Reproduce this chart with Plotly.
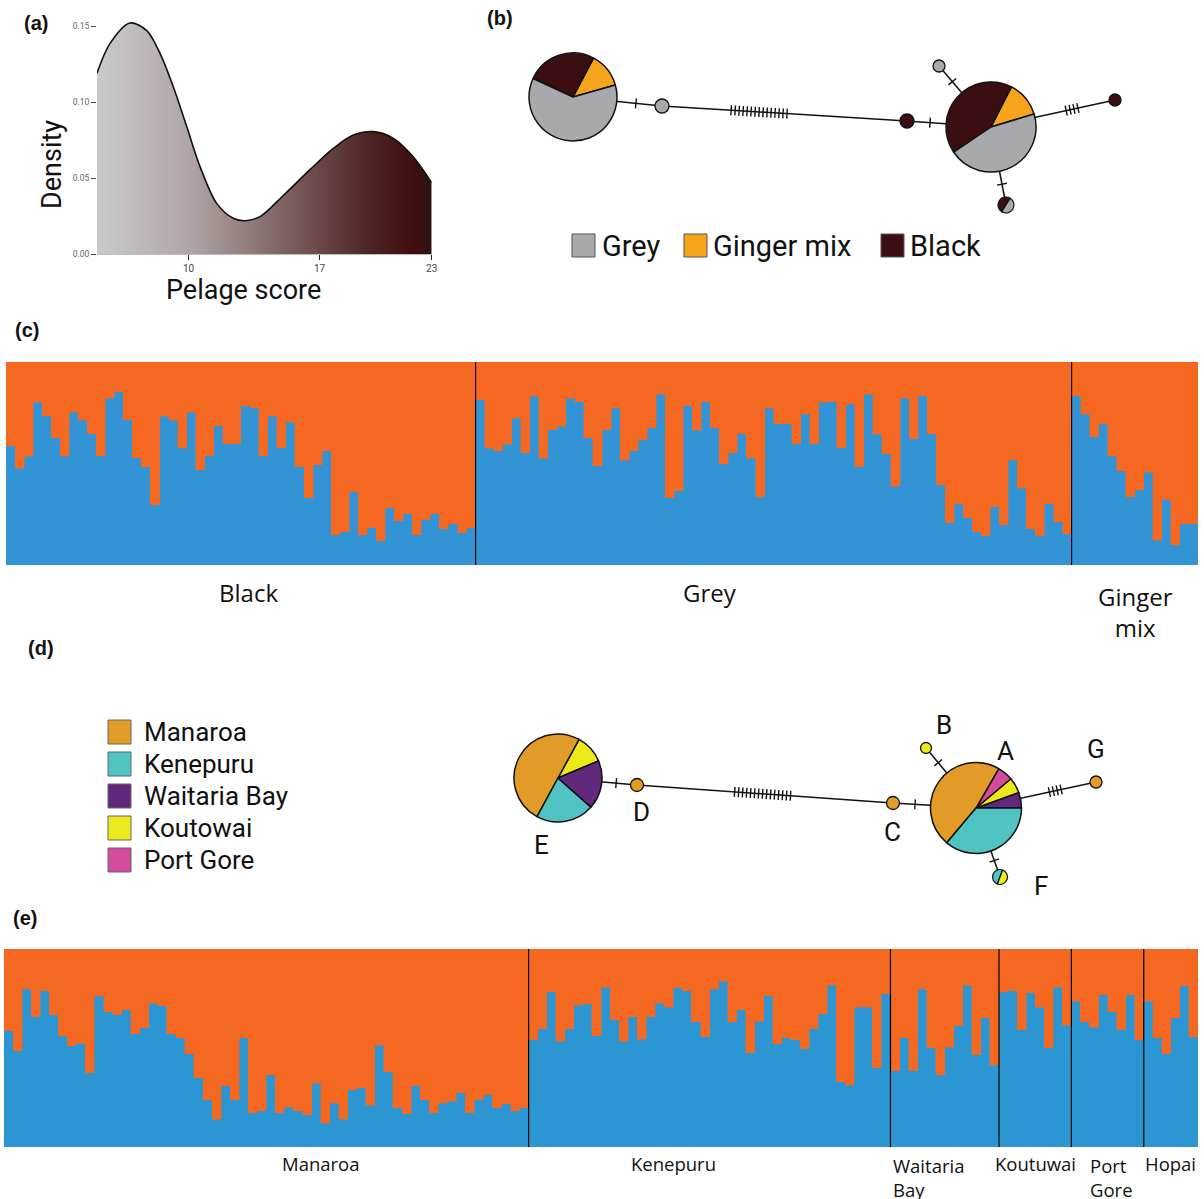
import math
import plotly.graph_objects as go

W, H = 1204, 1199

# ======================= DATA =======================
# (a) density of pelage score
pelage_score = [5.1, 5.8, 6.86, 7.76, 8.47, 9.18, 9.9, 10.61, 11.5, 12.39, 13.01,
                13.82, 15.06, 16.49, 17.74, 18.81, 19.88, 20.95, 22.01, 23.0]
pelage_density = [0.119, 0.1386, 0.152, 0.147, 0.132, 0.110, 0.0838, 0.0575, 0.0333,
                  0.0235, 0.0219, 0.0246, 0.0385, 0.0555, 0.0695, 0.0783, 0.0805,
                  0.0761, 0.064, 0.0469]
pelage_ticks = [10, 17, 23]
density_ticks = [0.00, 0.05, 0.10, 0.15]

# (b) haplotype network by pelage class
pelage_classes = ["Grey", "Ginger mix", "Black"]
hapb_counts = {
    "L": [19, 4, 8],     # Grey, Ginger mix, Black
    "R": [14, 4, 13],
    "mix": [1, 0, 1],
    "g1": [1, 0, 0],
    "d1": [0, 0, 1],
    "g2": [1, 0, 0],
    "d2": [0, 0, 1],
}
hapb_edges = [("L", "g1", 1), ("g1", "d1", 15), ("d1", "R", 1),
              ("R", "g2", 1), ("R", "d2", 4), ("R", "mix", 1)]

# (c) STRUCTURE by pelage class (cluster-1 proportion)
struct_c_groups = ["Black", "Grey", "Ginger mix"]
q_black = [0.587, 0.477, 0.535, 0.801, 0.735, 0.627, 0.535, 0.752, 0.712, 0.646,
           0.538, 0.821, 0.854, 0.715, 0.528, 0.485, 0.298, 0.732, 0.712, 0.574,
           0.752, 0.469, 0.538, 0.686, 0.597, 0.597, 0.785, 0.775, 0.538, 0.732,
           0.577, 0.702, 0.485, 0.331, 0.495, 0.564, 0.150, 0.163, 0.360, 0.150,
           0.183, 0.120, 0.281, 0.219, 0.252, 0.150, 0.222, 0.252, 0.179, 0.202,
           0.160, 0.183]
q_grey = [0.814, 0.574, 0.564, 0.594, 0.722, 0.554, 0.831, 0.525, 0.666, 0.683,
          0.821, 0.804, 0.627, 0.488, 0.666, 0.771, 0.515, 0.564, 0.617, 0.676,
          0.840, 0.331, 0.367, 0.785, 0.663, 0.804, 0.676, 0.498, 0.554, 0.646,
          0.525, 0.337, 0.771, 0.696, 0.696, 0.597, 0.745, 0.597, 0.801, 0.804,
          0.577, 0.791, 0.485, 0.840, 0.643, 0.548, 0.387, 0.821, 0.623, 0.834,
          0.646, 0.396, 0.209, 0.301, 0.232, 0.163, 0.143, 0.288, 0.199, 0.518,
          0.377, 0.179, 0.143, 0.301, 0.212, 0.153]
q_ginger = [0.834, 0.742, 0.633, 0.696, 0.535, 0.465, 0.337, 0.370, 0.456, 0.123,
            0.321, 0.100, 0.202, 0.202]

# (d) haplotype network by location
locations = ["Manaroa", "Kenepuru", "Waitaria Bay", "Koutowai", "Port Gore"]
hapd_counts = {   # Manaroa, Kenepuru, Waitaria Bay, Koutowai, Port Gore
    "E": [14, 6, 5, 3, 0],
    "A": [17, 13, 2, 2, 2],
    "D": [1, 0, 0, 0, 0],
    "C": [1, 0, 0, 0, 0],
    "B": [0, 0, 0, 1, 0],
    "G": [1, 0, 0, 0, 0],
    "F": [0, 1, 0, 1, 0],
}
hapd_edges = [("E", "D", 1), ("D", "C", 15), ("C", "A", 1),
              ("A", "B", 1), ("A", "G", 4), ("A", "F", 1)]

# (e) STRUCTURE by location
struct_e_groups = ["Manaroa", "Kenepuru", "Waitaria Bay", "Koutuwai", "Port Gore", "Hopai"]
q_manaroa = [0.586, 0.485, 0.798, 0.657, 0.788, 0.667, 0.562, 0.512, 0.525, 0.374,
             0.764, 0.684, 0.667, 0.694, 0.572, 0.603, 0.727, 0.714, 0.572, 0.552,
             0.471, 0.350, 0.239, 0.141, 0.310, 0.239, 0.552, 0.172, 0.182, 0.364,
             0.172, 0.202, 0.182, 0.162, 0.323, 0.121, 0.222, 0.141, 0.290, 0.300,
             0.212, 0.515, 0.380, 0.199, 0.168, 0.310, 0.239, 0.172, 0.222, 0.232,
             0.273, 0.172, 0.239, 0.263, 0.199, 0.219, 0.182, 0.199]
q_kenepuru = [0.542, 0.596, 0.785, 0.535, 0.596, 0.717, 0.724, 0.562, 0.808, 0.643,
              0.535, 0.657, 0.545, 0.657, 0.727, 0.707, 0.805, 0.788, 0.633, 0.556,
              0.798, 0.838, 0.633, 0.694, 0.475, 0.636, 0.764, 0.522, 0.552, 0.542,
              0.495, 0.596, 0.673, 0.818, 0.330, 0.313, 0.707, 0.707, 0.401, 0.774]
q_waitaria = [0.384, 0.552, 0.384, 0.798, 0.502, 0.364, 0.505, 0.613, 0.818, 0.465,
              0.653, 0.414]
q_koutuwai = [0.785, 0.788, 0.593, 0.778, 0.707, 0.502, 0.808, 0.616]
q_portgore = [0.737, 0.633, 0.606, 0.768, 0.684, 0.593, 0.768, 0.542]
q_hopai = [0.737, 0.552, 0.471, 0.653, 0.815, 0.556]

# ======================= STYLE / LAYOUT =======================
pelage_colors = ["#A7A9AC", "#F7A41D", "#3B0F12"]
loc_colors = ["#E39B27", "#50C3C3", "#61287B", "#EBE91B", "#D44A9C"]
BLUE_C, BLUE_E, ORANGE = "#3294D4", "#2C96D2", "#F46822"
NARROW = "Roboto, Open Sans, sans-serif"
SANS = "Open Sans, sans-serif"
BOLD = "Liberation Sans, Arial, sans-serif"

# node positions (px), radii, slice order and start angle (math degrees, ccw)
nodes_b = {
    "L": dict(x=573, y=97, r=44, order=[1, 2, 0], start=15.8),
    "R": dict(x=991, y=127, r=45, order=[1, 2, 0], start=16.7),
    "mix": dict(x=1006, y=205, r=8, order=[2, 0], start=58),
    "g1": dict(x=662, y=106, r=7),
    "d1": dict(x=907, y=121, r=7),
    "g2": dict(x=939, y=66, r=6),
    "d2": dict(x=1115, y=100, r=6),
}
hatch_pos_b = {("g1", "d1"): 0.39}
nodes_d = {
    "E": dict(x=558, y=778, r=44, order=[3, 0, 1, 2], start=22.9, lab=(541, 845)),
    "A": dict(x=976, y=808, r=45.5, order=[2, 3, 4, 0, 1], start=0, lab=(1005, 751)),
    "F": dict(x=1000, y=877, r=7.5, order=[1, 3], start=70, lab=(1041, 886)),
    "D": dict(x=637, y=785, r=6.5, lab=(641, 812)),
    "C": dict(x=893, y=803, r=6.5, lab=(892, 832)),
    "B": dict(x=926, y=748, r=5.5, lab=(944, 725)),
    "G": dict(x=1096, y=782, r=6, lab=(1096, 749)),
}
hatch_pos_d = {("D", "C"): 0.49}

fig = go.Figure()

def px(x):
    return x / W

def py(y):
    return 1 - y / H

# ---------- (a) density ----------
fig.add_trace(go.Scatter(
    x=pelage_score, y=pelage_density, mode="lines",
    line=dict(shape="spline", color="#111111", width=1.6, smoothing=0.9),
    fill="tozeroy",
    fillgradient=dict(type="horizontal", colorscale=[
        [0.0, "#CACACA"], [0.27, "#B1A6A6"], [0.44, "#948080"], [0.665, "#6C4747"],
        [0.82, "#4D2323"], [0.944, "#420E0E"], [1.0, "#2A1414"]]),
    hoverinfo="skip", showlegend=False, xaxis="x", yaxis="y"))

# ---------- (c) & (e) structure bars ----------
def add_struct(groups, axis_x, axis_y, blue):
    vals = [v for g in groups for v in g]
    idx = list(range(len(vals)))
    fig.add_trace(go.Bar(x=idx, y=vals, marker=dict(color=blue, line=dict(width=0.4, color=blue)),
                         xaxis=axis_x, yaxis=axis_y, showlegend=False, hoverinfo="skip"))
    fig.add_trace(go.Bar(x=idx, y=[1 - v for v in vals],
                         marker=dict(color=ORANGE, line=dict(width=0.4, color=ORANGE)),
                         xaxis=axis_x, yaxis=axis_y, showlegend=False, hoverinfo="skip"))
    n = 0
    for g in groups[:-1]:
        n += len(g)
        fig.add_shape(type="line", xref=axis_x, yref=axis_y + " domain", x0=n - 0.5, x1=n - 0.5,
                      y0=0, y1=1, line=dict(color="black", width=1.2), layer="above")
    return len(vals)

nc = add_struct([q_black, q_grey, q_ginger], "x2", "y2", BLUE_C)
ne = add_struct([q_manaroa, q_kenepuru, q_waitaria, q_koutuwai, q_portgore, q_hopai], "x3", "y3", BLUE_E)

# ---------- networks ----------
def add_network(nodes, edges, counts, colors, hatch_pos):
    lx, ly, hx, hy = [], [], [], []
    for a, b, nmut in edges:
        A, B = nodes[a], nodes[b]
        lx += [A["x"], B["x"], None]
        ly += [A["y"], B["y"], None]
        dx, dy = B["x"] - A["x"], B["y"] - A["y"]
        L = math.hypot(dx, dy)
        ux, uy = dx / L, dy / L
        s0, s1 = A["r"], L - B["r"]
        t = hatch_pos.get((a, b), 0.5)
        c = s0 + (s1 - s0) * t
        sp = 4.0
        for k in range(nmut):
            s = c + (k - (nmut - 1) / 2) * sp
            cx, cy = A["x"] + ux * s, A["y"] + uy * s
            hx += [cx - uy * 5, cx + uy * 5, None]
            hy += [cy + ux * 5, cy - ux * 5, None]
    fig.add_trace(go.Scatter(x=lx, y=ly, mode="lines", line=dict(color="#111", width=1.5),
                             xaxis="x4", yaxis="y4", hoverinfo="skip", showlegend=False))
    fig.add_trace(go.Scatter(x=hx, y=hy, mode="lines", line=dict(color="#111", width=1.4),
                             xaxis="x4", yaxis="y4", hoverinfo="skip", showlegend=False))
    for key, nd in nodes.items():
        vals = counts[key]
        nonzero = [i for i, v in enumerate(vals) if v > 0]
        if len(nonzero) == 1:
            fig.add_trace(go.Scatter(x=[nd["x"]], y=[nd["y"]], mode="markers",
                                     marker=dict(size=2 * nd["r"], color=colors[nonzero[0]],
                                                 line=dict(color="#111", width=1.3)),
                                     xaxis="x4", yaxis="y4", hoverinfo="skip", showlegend=False))
        else:
            order = nd["order"]
            r = nd["r"]
            pv = [vals[i] for i in order]
            first_deg = 360.0 * pv[0] / sum(pv)
            rot = 90 - nd["start"] - first_deg
            fig.add_trace(go.Pie(
                values=pv, labels=[str(i) for i in order],
                marker=dict(colors=[colors[i] for i in order],
                            line=dict(color="#111", width=1.5 if r > 20 else 1.2)),
                domain=dict(x=[px(nd["x"] - r), px(nd["x"] + r)],
                            y=[py(nd["y"] + r), py(nd["y"] - r)]),
                sort=False, direction="counterclockwise", rotation=rot,
                textinfo="none", hoverinfo="skip", showlegend=False))

add_network(nodes_b, hapb_edges, hapb_counts, pelage_colors, hatch_pos_b)
add_network(nodes_d, hapd_edges, hapd_counts, loc_colors, hatch_pos_d)

# ---------- annotations ----------
anns = []

def ann(x, y, text, size, family=SANS, color="#111", xanchor="center", yanchor="middle", align="center", angle=0):
    anns.append(dict(x=px(x), y=py(y), xref="paper", yref="paper", text=text, showarrow=False,
                     font=dict(size=size, family=family, color=color), xanchor=xanchor,
                     yanchor=yanchor, align=align, textangle=angle))

for lab, (x, y) in zip(["(a)", "(b)", "(c)", "(d)", "(e)"],
                       [(36, 23), (500, 18), (27, 330), (41, 648), (25, 918)]):
    ann(x, y, "<b>%s</b>" % lab, 20, BOLD)

ann(52, 165, "Density", 27, NARROW, angle=-90)
ann(243, 290, "Pelage score", 27, NARROW)

# (b) legend
for name, col, (sx, tx) in zip(pelage_classes, pelage_colors, [(572, 600), (684, 711), (881, 908)]):
    fig.add_shape(type="rect", xref="paper", yref="paper", x0=px(sx), x1=px(sx + 23),
                  y0=py(257), y1=py(234), fillcolor=col, line=dict(color="#555", width=1))
    ann(tx, 246, name, 29, NARROW, xanchor="left")

# (d) legend
for i, (name, col) in enumerate(zip(locations, loc_colors)):
    y0 = 720 + 32 * i
    fig.add_shape(type="rect", xref="paper", yref="paper", x0=px(108), x1=px(131),
                  y0=py(y0 + 24), y1=py(y0), fillcolor=col, line=dict(color="#666", width=1))
    ann(142, y0 + 12, name, 26, NARROW, xanchor="left")

# (d) haplotype letters
for key, nd in nodes_d.items():
    ann(nd["lab"][0], nd["lab"][1], key, 26, NARROW)

# (c) group labels
for name, x in zip(struct_c_groups, [248, 710, 1135]):
    if " " in name:
        ann(x, 578, name.replace(" ", "<br>"), 24, SANS, yanchor="top")
    else:
        ann(x, 593, name, 24, SANS)

# (e) group labels
e_label_pos = [(321, "center"), (673, "center"), (891, "left"), (1035, "center"), (1088, "left"), (1170, "center")]
for name, (x, xa) in zip(struct_e_groups, e_label_pos):
    if " " in name:
        ann(x, 1151, name.replace(" ", "<br>"), 18.5, SANS, xanchor="left", yanchor="top", align="left")
    else:
        ann(x, 1163, name, 18.5, SANS, xanchor=xa)

ax_hidden = dict(visible=False, showgrid=False, zeroline=False, fixedrange=True)

fig.update_layout(
    width=W, height=H, margin=dict(l=0, r=0, t=0, b=0, autoexpand=False),
    paper_bgcolor="white", plot_bgcolor="rgba(0,0,0,0)",
    barmode="stack", bargap=0, showlegend=False,
    annotations=anns,
    xaxis=dict(domain=[px(97), px(431.7)], range=[5.1, 23], tickvals=pelage_ticks,
               ticks="outside", ticklen=5, tickcolor="#222", showgrid=False, zeroline=False,
               showline=True, linecolor="#BBBBBB", linewidth=1,
               tickfont=dict(size=10, family=NARROW, color="#444"), anchor="y"),
    yaxis=dict(domain=[py(254), py(18.4)], range=[0, 0.155], tickvals=density_ticks,
               tickformat=".2f", ticks="outside", ticklen=5, tickcolor="#444", showgrid=False,
               zeroline=False, showline=False,
               tickfont=dict(size=8.5, family=NARROW, color="#666"), anchor="x"),
    xaxis2=dict(domain=[px(6), px(1198)], range=[-0.5, nc - 0.5], **ax_hidden, anchor="y2"),
    yaxis2=dict(domain=[py(565), py(362)], range=[0, 1], **ax_hidden, anchor="x2"),
    xaxis3=dict(domain=[px(4), px(1198)], range=[-0.5, ne - 0.5], **ax_hidden, anchor="y3"),
    yaxis3=dict(domain=[py(1147), py(949)], range=[0, 1], **ax_hidden, anchor="x3"),
    xaxis4=dict(domain=[0, 1], range=[0, W], **ax_hidden, anchor="y4"),
    yaxis4=dict(domain=[0, 1], range=[H, 0], **ax_hidden, anchor="x4"),
)

fig.write_html(
    "out.html",
    config={"displayModeBar": False, "staticPlot": True},
    post_script=("document.body.style.margin='0';"
                 "document.documentElement.style.overflow='hidden';"
                 "document.body.style.overflow='hidden';"
                 "var d=document.getElementById('{plot_id}');"
                 "d.style.position='fixed';d.style.top='0px';d.style.left='0px';"),
)
